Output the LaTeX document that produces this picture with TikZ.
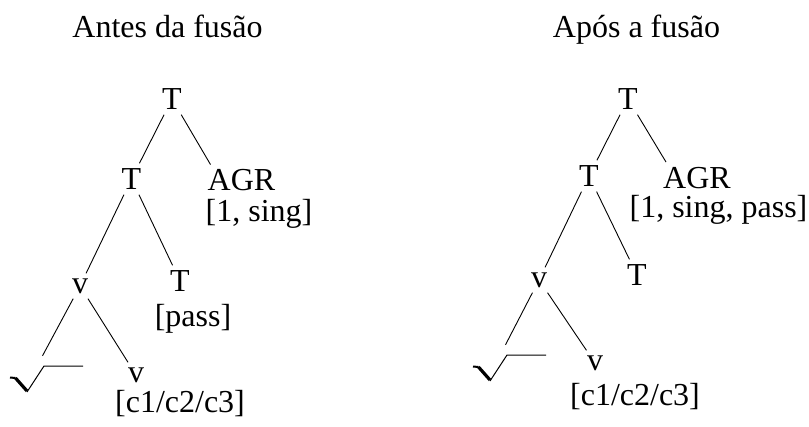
\documentclass[tikz,border=0pt]{standalone}
\usepackage{fontspec}
\setmainfont{Liberation Serif}
\usepackage{tikz}

\begin{document}
\begin{tikzpicture}[x=1pt, y=-1pt,
    word/.style={inner sep=5pt, font=\fontsize{32}{38}\selectfont},
    title/.style={anchor=base, inner sep=0pt, font=\fontsize{32}{38}\selectfont},
    root/.style={minimum width=80pt, minimum height=46pt, inner sep=0pt,
        path picture={
            \draw[shift={(path picture bounding box.center)}, line width=2pt] (-36.5pt,1.5pt) -- (-31pt,1pt);
            \draw[shift={(path picture bounding box.center)}, line width=3.2pt] (-31pt,1pt) -- (-19.5pt,-12pt);
            \draw[shift={(path picture bounding box.center)}, line width=1pt] (-19.5pt,-13pt) -- (-2.5pt,13pt) -- (36.5pt,13pt);
        }},
    line/.style={draw, line width=0.9pt}]

    \useasboundingbox (0,0) rectangle (809,426);

    % Titles
    \node [title] (ltitle) at (167.5,37) {Antes da fusão};
    \node [title] (rtitle) at (636.5,37) {Após a fusão};

    % Nodes, left tree
    \node [word] (lt0) at (172,99) {T};
    \node [word] (lt1) at (131.5,179) {T};
    \node [word] (lagr) at (241.5,180.5) {AGR};
    \node [word] (lagrf) at (259,213.5) {[1, sing]};
    \node [word] (lv) at (80,286) {v};
    \node [word] (lt2) at (180,281) {T};
    \node [word] (lpass) at (193,319) {[pass]};
    \node [root] (lroot) at (46.5,379) {};
    \node [word] (lv2) at (136,375) {v};
    \node [word] (lcls) at (180,403.5) {[c1/c2/c3]};

    % Nodes, right tree
    \node [word] (rt0) at (628,99) {T};
    \node [word] (rt1) at (589,176) {T};
    \node [word] (ragr) at (697,178) {AGR};
    \node [word, inner sep=1pt] (ragrf) at (718.5,210) {[1, sing, pass]};
    \node [word] (rv) at (539,280) {v};
    \node [word] (rt2) at (637,275) {T};
    \node [root] (rroot) at (509.5,368) {};
    \node [word] (rv2) at (595,363) {v};
    \node [word] (rcls) at (635,397) {[c1/c2/c3]};

    % Paths, left tree
    \path [line] (lt0) -- (lt1);
    \path [line] (lt0) -- ([xshift=8pt]lagr.north west);
    \path [line] (lt1) -- (lv);
    \path [line] (lt1) -- (lt2);
    \path [line] (lv) -- ([xshift=-4pt]lroot.north);
    \path [line] (lv) -- (lv2);

    % Paths, right tree
    \path [line] (rt0) -- (rt1);
    \path [line] (rt0) -- ([xshift=8pt]ragr.north west);
    \path [line] (rt1) -- (rv);
    \path [line] (rt1) -- (rt2);
    \path [line] (rv) -- ([xshift=-4pt]rroot.north);
    \path [line] (rv) -- (rv2);

\end{tikzpicture}
\end{document}
